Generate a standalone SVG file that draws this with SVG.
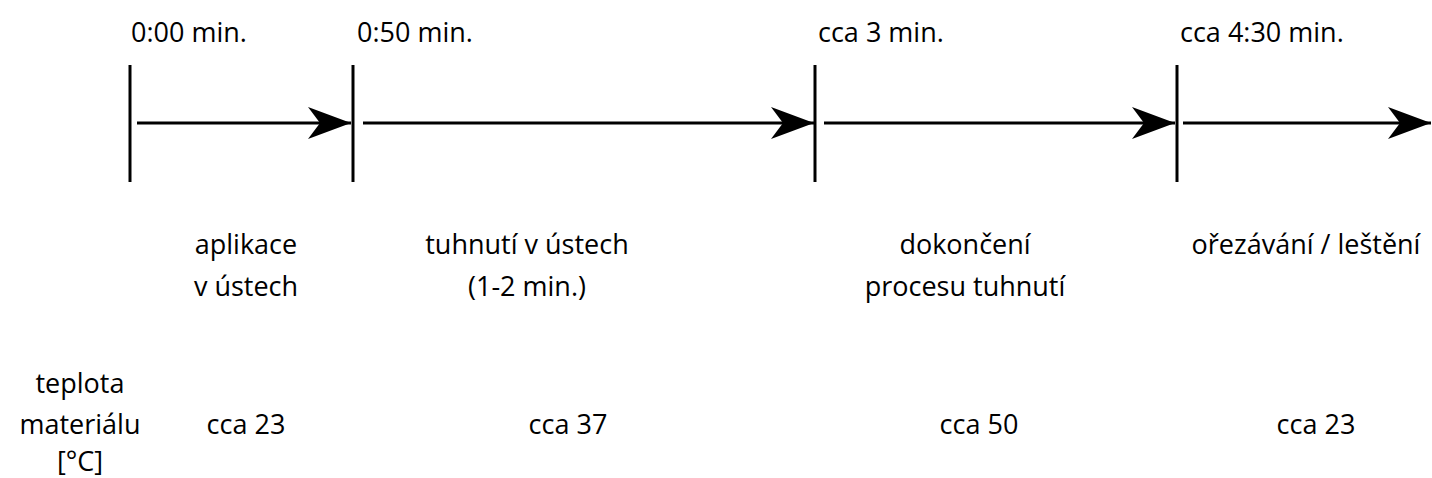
<svg xmlns="http://www.w3.org/2000/svg" width="1432" height="478" viewBox="0 0 1432 478">
<style>
text{font-family:"Open Sans","Noto Sans","Liberation Sans",sans-serif;font-size:27px;fill:#000}
.c{text-anchor:middle}
.tick{stroke:#000;stroke-width:3}
.ln{stroke:#000;stroke-width:3;fill:none}
</style>
<defs>
<marker id="ah" markerUnits="userSpaceOnUse" markerWidth="44" markerHeight="32" refX="43" refY="16" orient="auto" viewBox="0 0 44 32">
<path d="M0,0 L43,16 L0,32 L12,16 Z" fill="#000"/>
</marker>
</defs>
<rect width="1432" height="478" fill="#fff"/>
<g id="ticks">
<line class="tick" x1="130" y1="65" x2="130" y2="182"/>
<line class="tick" x1="353" y1="65" x2="353" y2="182"/>
<line class="tick" x1="815" y1="65" x2="815" y2="182"/>
<line class="tick" x1="1177" y1="65" x2="1177" y2="182"/>
</g>
<g id="connectors">
<line class="ln" x1="137" y1="123" x2="351" y2="123" marker-end="url(#ah)"/>
<line class="ln" x1="363" y1="123" x2="814" y2="123" marker-end="url(#ah)"/>
<line class="ln" x1="824" y1="123" x2="1175" y2="123" marker-end="url(#ah)"/>
<line class="ln" x1="1183" y1="123" x2="1431" y2="123" marker-end="url(#ah)"/>
</g>
<g id="times">
<text x="131" y="42">0:00 min.</text>
<text x="357" y="42">0:50 min.</text>
<text x="818" y="42">cca 3 min.</text>
<text x="1180" y="42">cca 4:30 min.</text>
</g>
<g id="phase1"><text class="c" x="246" y="254">aplikace</text><text class="c" x="246" y="296">v ústech</text></g>
<g id="phase2"><text class="c" x="527" y="254">tuhnutí v ústech</text><text class="c" x="527" y="296">(1-2 min.)</text></g>
<g id="phase3"><text class="c" x="965" y="254">dokončení</text><text class="c" x="965" y="296">procesu tuhnutí</text></g>
<g id="phase4"><text class="c" x="1306" y="254">ořezávání / leštění</text></g>
<g id="temps">
<text class="c" x="80" y="393">teplota</text>
<text class="c" x="80" y="434">materiálu</text>
<text class="c" x="80" y="471">[°C]</text>
<text class="c" x="246" y="434">cca 23</text>
<text class="c" x="568" y="434">cca 37</text>
<text class="c" x="979" y="434">cca 50</text>
<text class="c" x="1316" y="434">cca 23</text>
</g>
</svg>
